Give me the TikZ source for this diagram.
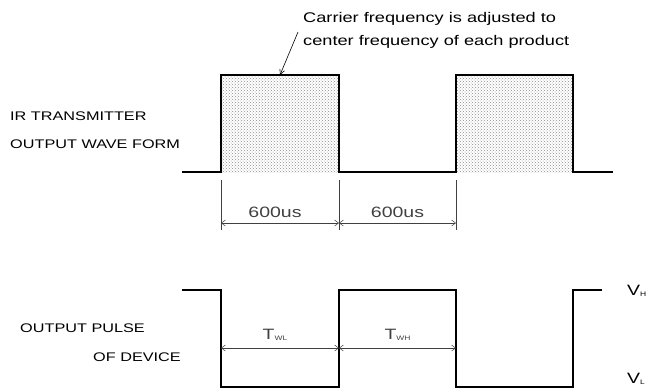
\documentclass[tikz,border=0pt]{standalone}
\usepackage{fontspec}
\setmainfont{Liberation Sans}[FakeStretch=1.3]
\usetikzlibrary{arrows.meta,patterns}
\newcommand{\lowsub}[1]{\raisebox{-0.2ex}{\fontsize{6.5}{7}\selectfont #1}}

\begin{document}
\begin{tikzpicture}[x=1pt,y=-1pt,
		wave/.style={line width=1.1pt},
		dim/.style={line width=0.5pt,black!75},
		dimarrow/.style={dim,{Straight Barb[length=4pt,width=6pt]}-{Straight Barb[length=4pt,width=6pt]}},
		lbl/.style={inner sep=0pt,anchor=west,font=\fontsize{12.5}{14}\selectfont},
		note/.style={inner sep=0pt,anchor=west,font=\fontsize{14}{16}\selectfont},
		val/.style={inner sep=0pt,font=\fontsize{15}{17}\selectfont}]
	\useasboundingbox (0,0) rectangle (656,389);
	% labels
	\node[lbl] (irtx) at (10,116) {IR TRANSMITTER};
	\node[lbl] (irwave) at (10,144) {OUTPUT WAVE FORM};
	\node[lbl] (outpulse) at (20,328) {OUTPUT PULSE};
	\node[lbl] (device) at (93,357) {OF DEVICE};
	\node[note] (note1) at (303,19) {Carrier frequency is adjusted to};
	\node[note] (note2) at (303,42) {center frequency of each product};
	% transmitter output
	\fill[pattern=crosshatch dots,pattern color=black!45] (221,75) rectangle (339,172);
	\fill[pattern=crosshatch dots,pattern color=black!45] (456,75) rectangle (573,172);
	\draw[wave] (182,172) -- (221,172) -- (221,75) -- (339,75) -- (339,172) -- (456,172)
		-- (456,75) -- (573,75) -- (573,172) -- (613,172);
	\coordinate (src) at (298,32);
	\coordinate (tip) at (280,75);
	\draw[line width=0.6pt,-{Straight Barb[length=5pt,width=5pt]}] (src) -- (tip);
	% 600us marks
	\coordinate (e1) at (221,180); \coordinate (f1) at (221,230);
	\coordinate (e2) at (339,180); \coordinate (f2) at (339,230);
	\coordinate (e3) at (456,180); \coordinate (f3) at (456,230);
	\draw[dim] (e1) -- (f1);
	\draw[dim] (e2) -- (f2);
	\draw[dim] (e3) -- (f3);
	\coordinate (d1) at (221,223);
	\coordinate (d2) at (339,223);
	\coordinate (d3) at (456,223);
	\draw[dimarrow] (d1) -- node[val,above=5pt,xshift=-5pt] (first) {600us} (d2);
	\draw[dimarrow] (d2) -- node[val,above=5pt] (second) {600us} (d3);
	% device output
	\draw[wave] (182,290) -- (221,290) -- (221,387) -- (339,387) -- (339,290) -- (456,290)
		-- (456,387) -- (573,387) -- (573,290) -- (602,290);
	\coordinate (p1) at (221,348);
	\coordinate (p2) at (339,348);
	\coordinate (p3) at (456,348);
	\draw[dimarrow] (p1) -- node[val,above=7pt,xshift=-5pt] (twl) {T\lowsub{WL}} (p2);
	\draw[dimarrow] (p2) -- node[val,above=7pt] (twh) {T\lowsub{WH}} (p3);
	\node[val,anchor=west] (vh) at (627,291) {V\lowsub{H}};
	\node[val,anchor=west] (vl) at (627,379) {V\lowsub{L}};
\end{tikzpicture}
\end{document}
